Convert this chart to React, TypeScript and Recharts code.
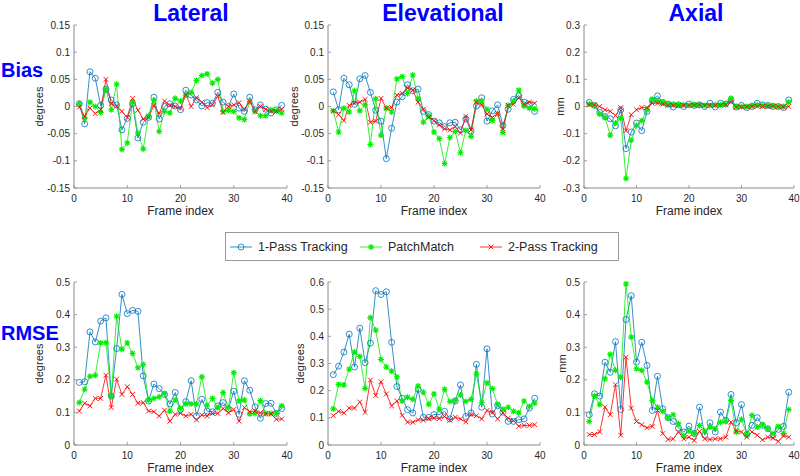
import React from 'react';
import { LineChart, Line, XAxis, YAxis, Legend } from 'recharts';

const frames = [1, 2, 3, 4, 5, 6, 7, 8, 9, 10, 11, 12, 13, 14, 15, 16, 17, 18, 19, 20, 21, 22, 23, 24, 25, 26, 27, 28, 29, 30, 31, 32, 33, 34, 35, 36, 37, 38, 39];
const seriesNames = ['1-Pass Tracking', 'PatchMatch', '2-Pass Tracking'];
const columnTitles = ['Lateral', 'Elevational', 'Axial'];
const rowTitles = ['Bias', 'RMSE'];
const xTicks = [0, 10, 20, 30, 40];

// bias (top row)
const latBias1 = [0.005, -0.032, 0.064, 0.052, 0.002, 0.032, 0.012, 0.003, -0.043, -0.022, 0.005, -0.058, -0.029, -0.02, 0.017, -0.023, 0, 0.005, 0.001, -0.006, 0.03, 0.021, 0.012, 0.001, 0.007, 0.006, 0.026, 0.008, 0, 0.023, -0.003, -0.009, 0.017, -0.006, 0.003, -0.005, -0.012, -0.006, 0.002];
const latBias2 = [0.006, -0.021, 0.008, 0, -0.011, 0.032, -0.006, 0.041, -0.079, -0.067, 0.008, -0.049, -0.078, -0.017, 0.011, -0.046, -0.009, -0.012, 0.015, 0.01, 0.021, 0.026, 0.048, 0.057, 0.06, 0.043, 0.05, -0.009, -0.007, -0.009, -0.021, -0.024, 0.009, -0.009, -0.017, -0.017, -0.006, -0.008, -0.012];
const latBias3 = [-0.001, -0.018, -0.003, -0.013, -0.006, 0.05, 0.005, 0.001, -0.009, -0.02, 0.015, -0.007, -0.023, -0.02, 0.002, -0.013, 0.01, 0.002, 0, -0.003, 0.021, 0, 0.016, 0.008, -0.002, 0.003, 0.019, -0.011, 0, 0.003, 0.007, -0.005, 0.009, -0.009, 0, -0.005, -0.009, -0.009, -0.005];

const elevBias1 = [0.027, -0.006, 0.052, 0.04, 0.004, 0.051, 0.057, 0.026, -0.007, -0.027, -0.096, -0.04, 0.008, 0.018, 0.04, 0.029, 0.032, -0.009, -0.015, -0.027, -0.03, -0.037, -0.03, -0.029, -0.043, -0.023, -0.045, 0.001, 0.016, -0.027, -0.008, 0.003, -0.035, -0.005, 0.013, 0.02, 0.008, 0.004, -0.009];
const elevBias2 = [-0.008, -0.047, -0.003, -0.01, 0.029, -0.008, 0.003, -0.07, 0.014, -0.053, -0.003, -0.01, 0.051, 0.055, 0.024, 0.058, 0.014, -0.029, -0.017, -0.047, -0.059, -0.105, -0.057, -0.046, -0.085, -0.044, -0.055, 0.01, 0.01, -0.005, -0.026, -0.013, -0.048, 0.002, 0.01, 0.03, 0.001, -0.003, -0.004];
const elevBias3 = [-0.008, -0.015, -0.026, 0.002, 0.006, 0.008, 0.013, -0.029, -0.027, 0.015, -0.003, -0.002, 0.021, 0.024, 0.034, 0.03, 0.008, -0.005, -0.02, -0.026, -0.034, -0.041, -0.043, -0.037, -0.049, -0.018, -0.043, 0.008, 0.003, -0.014, -0.02, -0.013, -0.041, 0.002, 0.004, 0.016, 0.004, 0.008, 0.006];

const axBias1 = [0.015, 0.004, -0.022, -0.037, -0.045, -0.071, -0.012, -0.155, -0.094, -0.061, -0.089, -0.018, 0.022, 0.039, 0.015, 0.009, -0.002, 0.006, 0, 0.009, 0.004, 0.006, 0, 0.012, -0.002, 0.012, 0.009, 0.024, -0.002, 0.004, -0.004, 0, 0.012, 0.006, 0.004, 0, 0, -0.004, 0.024];
const axBias2 = [0.009, 0.004, -0.028, -0.04, -0.106, -0.061, -0.043, -0.265, -0.124, -0.07, -0.052, -0.012, 0.027, 0.021, 0.016, 0.009, 0.009, 0.006, 0.006, 0.004, 0.006, 0.006, 0.004, 0.004, 0.006, 0.006, 0.009, 0.03, 0, 0, 0, 0.004, 0.006, 0.004, 0.004, 0.004, 0, 0, 0.016];
const axBias3 = [0.006, 0.006, 0, -0.012, -0.018, -0.033, -0.004, -0.089, -0.03, -0.012, -0.004, -0.004, 0.012, 0.012, 0.009, 0.004, 0.004, 0.004, 0.004, 0.004, 0.004, 0.006, 0.004, 0.004, 0.004, 0.004, 0.006, 0.016, -0.002, -0.002, -0.002, 0, 0, 0, 0, 0, 0, -0.002, 0];

// rmse (bottom row)
const latRmse1 = [0.192, 0.194, 0.347, 0.316, 0.38, 0.39, 0.15, 0.296, 0.462, 0.403, 0.413, 0.41, 0.212, 0.135, 0.187, 0.173, 0.155, 0.126, 0.161, 0.109, 0.133, 0.197, 0.089, 0.14, 0.104, 0.102, 0.12, 0.13, 0.11, 0.165, 0.094, 0.197, 0.168, 0.117, 0.082, 0.127, 0.128, 0.097, 0.112];
const latRmse2 = [0.13, 0.171, 0.211, 0.214, 0.313, 0.314, 0.15, 0.395, 0.294, 0.313, 0.281, 0.237, 0.247, 0.138, 0.143, 0.148, 0.158, 0.104, 0.138, 0.112, 0.126, 0.126, 0.126, 0.209, 0.122, 0.143, 0.114, 0.161, 0.114, 0.222, 0.135, 0.138, 0.095, 0.097, 0.136, 0.097, 0.097, 0.097, 0.12];
const latRmse3 = [0.104, 0.128, 0.12, 0.143, 0.143, 0.214, 0.115, 0.202, 0.155, 0.179, 0.155, 0.128, 0.13, 0.104, 0.102, 0.089, 0.107, 0.073, 0.094, 0.097, 0.089, 0.094, 0.077, 0.092, 0.089, 0.097, 0.097, 0.112, 0.099, 0.109, 0.073, 0.115, 0.102, 0.104, 0.099, 0.095, 0.095, 0.079, 0.08];

const elevRmse1 = [0.259, 0.29, 0.342, 0.408, 0.287, 0.43, 0.303, 0.375, 0.568, 0.554, 0.564, 0.378, 0.215, 0.172, 0.13, 0.118, 0.205, 0.102, 0.102, 0.112, 0.112, 0.124, 0.096, 0.162, 0.221, 0.105, 0.118, 0.297, 0.139, 0.354, 0.114, 0.145, 0.121, 0.087, 0.087, 0.093, 0.096, 0.136, 0.172];
const elevRmse2 = [0.133, 0.223, 0.221, 0.279, 0.342, 0.326, 0.208, 0.469, 0.423, 0.315, 0.287, 0.272, 0.251, 0.162, 0.176, 0.168, 0.217, 0.194, 0.15, 0.188, 0.132, 0.205, 0.16, 0.164, 0.184, 0.16, 0.168, 0.261, 0.156, 0.229, 0.208, 0.15, 0.132, 0.139, 0.124, 0.118, 0.162, 0.142, 0.154];
const elevRmse3 = [0.108, 0.124, 0.118, 0.136, 0.136, 0.158, 0.12, 0.239, 0.182, 0.233, 0.188, 0.144, 0.162, 0.109, 0.084, 0.084, 0.093, 0.091, 0.097, 0.099, 0.097, 0.105, 0.091, 0.102, 0.096, 0.085, 0.112, 0.108, 0.096, 0.127, 0.12, 0.096, 0.118, 0.099, 0.09, 0.069, 0.072, 0.072, 0.075];

const axRmse1 = [0.093, 0.157, 0.15, 0.254, 0.223, 0.317, 0.109, 0.385, 0.458, 0.254, 0.315, 0.244, 0.106, 0.211, 0.111, 0.084, 0.072, 0.052, 0.04, 0.058, 0.035, 0.116, 0.03, 0.068, 0.04, 0.101, 0.076, 0.155, 0.068, 0.124, 0.032, 0.06, 0.084, 0.06, 0.05, 0.03, 0.048, 0.057, 0.162];
const axRmse2 = [0.072, 0.15, 0.124, 0.203, 0.278, 0.229, 0.208, 0.494, 0.331, 0.234, 0.229, 0.193, 0.137, 0.116, 0.103, 0.083, 0.093, 0.065, 0.028, 0.043, 0.035, 0.06, 0.043, 0.055, 0.05, 0.07, 0.072, 0.137, 0.04, 0.079, 0.033, 0.091, 0.055, 0.062, 0.05, 0.035, 0.057, 0.035, 0.109];
const axRmse3 = [0.032, 0.032, 0.04, 0.116, 0.093, 0.185, 0.03, 0.269, 0.113, 0.072, 0.062, 0.053, 0.057, 0.106, 0.035, 0.017, 0.019, 0.04, 0.019, 0.024, 0.014, 0.042, 0.019, 0.017, 0.019, 0.019, 0.024, 0.07, 0.043, 0.04, 0.024, 0.04, 0.03, 0.016, 0.024, 0.021, 0.011, 0.028, 0.024];

const biasTicksDeg = [-0.15, -0.1, -0.05, 0, 0.05, 0.1, 0.15];
const biasTicksMm = [-0.3, -0.2, -0.1, 0, 0.1, 0.2, 0.3];
const rmseTicks5 = [0, 0.1, 0.2, 0.3, 0.4, 0.5];
const rmseTicks6 = [0, 0.1, 0.2, 0.3, 0.4, 0.5, 0.6];

const BLUE = '#0072BD';
const GREEN = '#00EE00';
const RED = '#FF0000';
const COLORS = [BLUE, GREEN, RED];
const AXIS = '#8a8a8a';
const TXT = '#262626';
const FONT = '"Liberation Sans", Arial, sans-serif';

const toRows = (a: number[], b: number[], c: number[]) =>
  frames.map((f, i) => ({ frame: f, s1: a[i], s2: b[i], s3: c[i] }));

const panels = [
  { rows: toRows(latBias1, latBias2, latBias3), ticks: biasTicksDeg, unit: 'degrees', x: 74, y: 25, w: 213, lx: 39 },
  { rows: toRows(elevBias1, elevBias2, elevBias3), ticks: biasTicksDeg, unit: 'degrees', x: 328, y: 25, w: 212, lx: 294 },
  { rows: toRows(axBias1, axBias2, axBias3), ticks: biasTicksMm, unit: 'mm', x: 584, y: 25, w: 210, lx: 560 },
  { rows: toRows(latRmse1, latRmse2, latRmse3), ticks: rmseTicks5, unit: 'degrees', x: 74, y: 282, w: 213, lx: 39 },
  { rows: toRows(elevRmse1, elevRmse2, elevRmse3), ticks: rmseTicks6, unit: 'degrees', x: 328, y: 282, w: 212, lx: 300 },
  { rows: toRows(axRmse1, axRmse2, axRmse3), ticks: rmseTicks5, unit: 'mm', x: 584, y: 282, w: 210, lx: 562 },
];
const PH = 163; // plot height
const ML = 70; // room for y ticks
const MT = 10;
const XH = 30; // room under the x axis

// marker shapes
const drawMarker = (kind: number, cx: number, cy: number, key?: string) => {
  if (kind === 0) {
    return <circle key={key} cx={cx} cy={cy} r={3} fill="none" stroke={BLUE} strokeWidth={0.8} />;
  }
  if (kind === 1) {
    const s = 3;
    const d = 2.2;
    return (
      <path key={key} stroke={GREEN} strokeWidth={1.1} fill="none"
        d={`M${cx - s},${cy}H${cx + s}M${cx},${cy - s}V${cy + s}M${cx - d},${cy - d}L${cx + d},${cy + d}M${cx - d},${cy + d}L${cx + d},${cy - d}`} />
    );
  }
  const d = 2.4;
  return (
    <path key={key} stroke={RED} strokeWidth={0.9} fill="none"
      d={`M${cx - d},${cy - d}L${cx + d},${cy + d}M${cx - d},${cy + d}L${cx + d},${cy - d}`} />
  );
};

const dotFor = (kind: number) => (p: any) => drawMarker(kind, p.cx, p.cy, `m${kind}-${p.index}`);

const BottomTick = (p: any) => (
  <g>
    <line x1={p.x} x2={p.x} y1={p.y} y2={p.y - 3} stroke={AXIS} strokeWidth={0.8} />
    <text x={p.x} y={p.y + 14} textAnchor="middle" fontSize={10} fill={TXT} fontFamily={FONT}>{p.payload.value}</text>
  </g>
);
const TopTick = (p: any) => <line x1={p.x} x2={p.x} y1={p.y} y2={p.y + 3} stroke={AXIS} strokeWidth={0.8} />;
const LeftTick = (p: any) => (
  <g>
    <line x1={p.x} x2={p.x + 3} y1={p.y} y2={p.y} stroke={AXIS} strokeWidth={0.8} />
    <text x={p.x - 4} y={p.y + 3.5} textAnchor="end" fontSize={10} fill={TXT} fontFamily={FONT}>{p.payload.value}</text>
  </g>
);
const RightTick = (p: any) => <line x1={p.x} x2={p.x - 3} y1={p.y} y2={p.y} stroke={AXIS} strokeWidth={0.8} />;

const renderLegend = () => (
  <div style={{ width: 392, height: 27, border: '1px solid #9a9a9a', background: '#fff', position: 'relative', fontFamily: FONT, fontSize: 12.5, color: TXT }}>
    {seriesNames.map((name, i) => (
      <div key={name} style={{ position: 'absolute', left: [4, 134, 254][i], top: 0, height: 27, display: 'flex', alignItems: 'center' }}>
        <svg width={22} height={12} style={{ marginRight: 6 }}>
          <line x1={0} x2={22} y1={6} y2={6} stroke={COLORS[i]} strokeWidth={0.8} />
          {drawMarker(i, 11, 6)}
        </svg>
        <span>{name}</span>
      </div>
    ))}
  </div>
);

function Panel({ p, idx }: { p: (typeof panels)[number]; idx: number }) {
  const lo = p.ticks[0];
  const hi = p.ticks[p.ticks.length - 1];
  return (
    <div style={{ position: 'absolute', left: p.x - ML, top: p.y - MT }}>
      <LineChart width={p.w + ML + 6} height={PH + MT + XH} data={p.rows} margin={{ top: MT, right: 6, left: 0, bottom: 0 }}>
        <XAxis dataKey="frame" type="number" domain={[0, 40]} ticks={xTicks} interval={0} height={XH}
          stroke={AXIS} tickLine={false} tickSize={0} tickMargin={0} tick={<BottomTick />}
          label={{ value: 'Frame index', position: 'insideBottom', offset: 3, fontSize: 12, fill: TXT, fontFamily: FONT }} />
        <XAxis xAxisId="top" orientation="top" dataKey="frame" type="number" domain={[0, 40]} ticks={xTicks} interval={0}
          height={0} stroke={AXIS} tickLine={false} tickSize={0} tickMargin={0} tick={<TopTick />} />
        <YAxis type="number" domain={[lo, hi]} ticks={p.ticks} interval={0} width={ML} stroke={AXIS}
          tickLine={false} tickSize={0} tickMargin={0} tick={<LeftTick />} />
        <YAxis yAxisId="right" orientation="right" type="number" domain={[lo, hi]} ticks={p.ticks} interval={0} width={0}
          stroke={AXIS} tickLine={false} tickSize={0} tickMargin={0} tick={<RightTick />} />
        <Line dataKey="s1" name={seriesNames[0]} stroke={BLUE} strokeWidth={0.8} dot={dotFor(0)} activeDot={false} isAnimationActive={false} />
        <Line dataKey="s2" name={seriesNames[1]} stroke={GREEN} strokeWidth={0.8} dot={dotFor(1)} activeDot={false} isAnimationActive={false} />
        <Line dataKey="s3" name={seriesNames[2]} stroke={RED} strokeWidth={0.8} dot={dotFor(2)} activeDot={false} isAnimationActive={false} />
        {idx === 0 && (
          <Legend layout="vertical" align="center" verticalAlign="middle" content={renderLegend}
            wrapperStyle={{ left: 225 - (p.x - ML), top: 232 - (p.y - MT), width: 394, height: 29 }} />
        )}
      </LineChart>
    </div>
  );
}

export default function App() {
  return (
    <div style={{ position: 'absolute', left: 0, top: 0, width: 800, height: 476, background: '#fff', overflow: 'hidden', fontFamily: FONT }}>
      {panels.map((p, i) => (
        <Panel key={i} p={p} idx={i} />
      ))}
      <svg width={800} height={476} style={{ position: 'absolute', left: 0, top: 0, pointerEvents: 'none' }}>
        {columnTitles.map((t, i) => (
          <text key={t} x={[191, 443, 696][i]} y={21} textAnchor="middle" fontSize={23} fontWeight="bold" fill="#0000FF" fontFamily={FONT}>{t}</text>
        ))}
        {rowTitles.map((t, i) => (
          <text key={t} x={1} y={[77, 340][i]} textAnchor="start" fontSize={20} fontWeight="bold" fill="#0000FF" fontFamily={FONT}>{t}</text>
        ))}
        {panels.map((p, i) => (
          <text key={i} transform={`translate(${p.lx},${p.y + PH / 2}) rotate(-90)`} textAnchor="middle" dominantBaseline="central"
            fontSize={11} fill={TXT} fontFamily={FONT}>{p.unit}</text>
        ))}
      </svg>
    </div>
  );
}
